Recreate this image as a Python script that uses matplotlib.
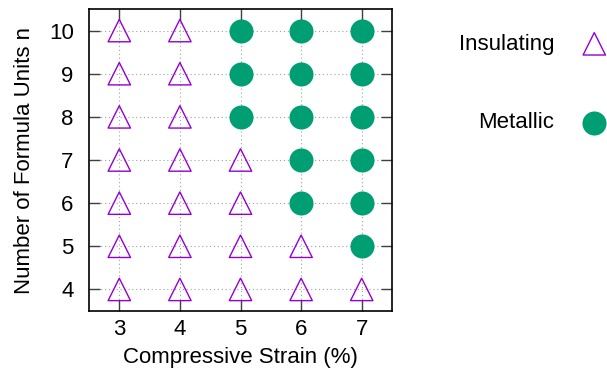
import numpy as np
import matplotlib
matplotlib.use("Agg")
import matplotlib.pyplot as plt

# Phase diagram: strain vs. number of formula units
ins_strain = [3, 3, 3, 3, 3, 3, 3,
              4, 4, 4, 4, 4, 4, 4,
              5, 5, 5, 5,
              6, 6,
              7]
ins_n = [4, 5, 6, 7, 8, 9, 10,
         4, 5, 6, 7, 8, 9, 10,
         4, 5, 6, 7,
         4, 5,
         4]

met_strain = [5, 5, 5,
              6, 6, 6, 6, 6,
              7, 7, 7, 7, 7, 7]
met_n = [8, 9, 10,
         6, 7, 8, 9, 10,
         5, 6, 7, 8, 9, 10]

x_ticks = [3, 4, 5, 6, 7]
y_ticks = [4, 5, 6, 7, 8, 9, 10]

PURPLE = "#9400d3"
GREEN = "#009e73"

plt.rcParams["font.family"] = ["Liberation Sans", "DejaVu Sans"]
plt.rcParams["font.size"] = 16

fig = plt.figure(figsize=(6.07, 3.81), dpi=100)
ax = fig.add_axes([89 / 607, 1 - 311 / 381, 303 / 607, 302 / 381])

ax.scatter(ins_strain, ins_n, marker="^", s=260, facecolors="none",
           edgecolors=PURPLE, linewidths=1.0, label="Insulating", zorder=3)
ax.scatter(met_strain, met_n, marker="o", s=300, color=GREEN,
           linewidths=0, label="Metallic", zorder=3)

ax.set_xlim(2.5, 7.5)
ax.set_ylim(3.5, 10.5)
ax.set_xticks(x_ticks)
ax.set_yticks(y_ticks)
ax.grid(True, color="#a0a0a0", linestyle=(0, (1, 2.5)), linewidth=0.8)
ax.set_axisbelow(True)
ax.tick_params(direction="in", length=8, width=1, top=True, right=True,
               color="#404040")
ax.tick_params(axis="x", pad=6)
ax.tick_params(axis="y", pad=11)
for s in ax.spines.values():
    s.set_linewidth(1.2)

ax.set_xlabel("Compressive Strain (%)", labelpad=5)
ax.set_ylabel("Number of Formula Units n", labelpad=10)

fig.legend(loc="upper right", bbox_to_anchor=(1.012, 0.935), frameon=False,
           markerfirst=False, labelspacing=2.6, handlelength=1.0,
           handletextpad=1.3, borderaxespad=0)

fig.savefig("out.png", dpi=100)
